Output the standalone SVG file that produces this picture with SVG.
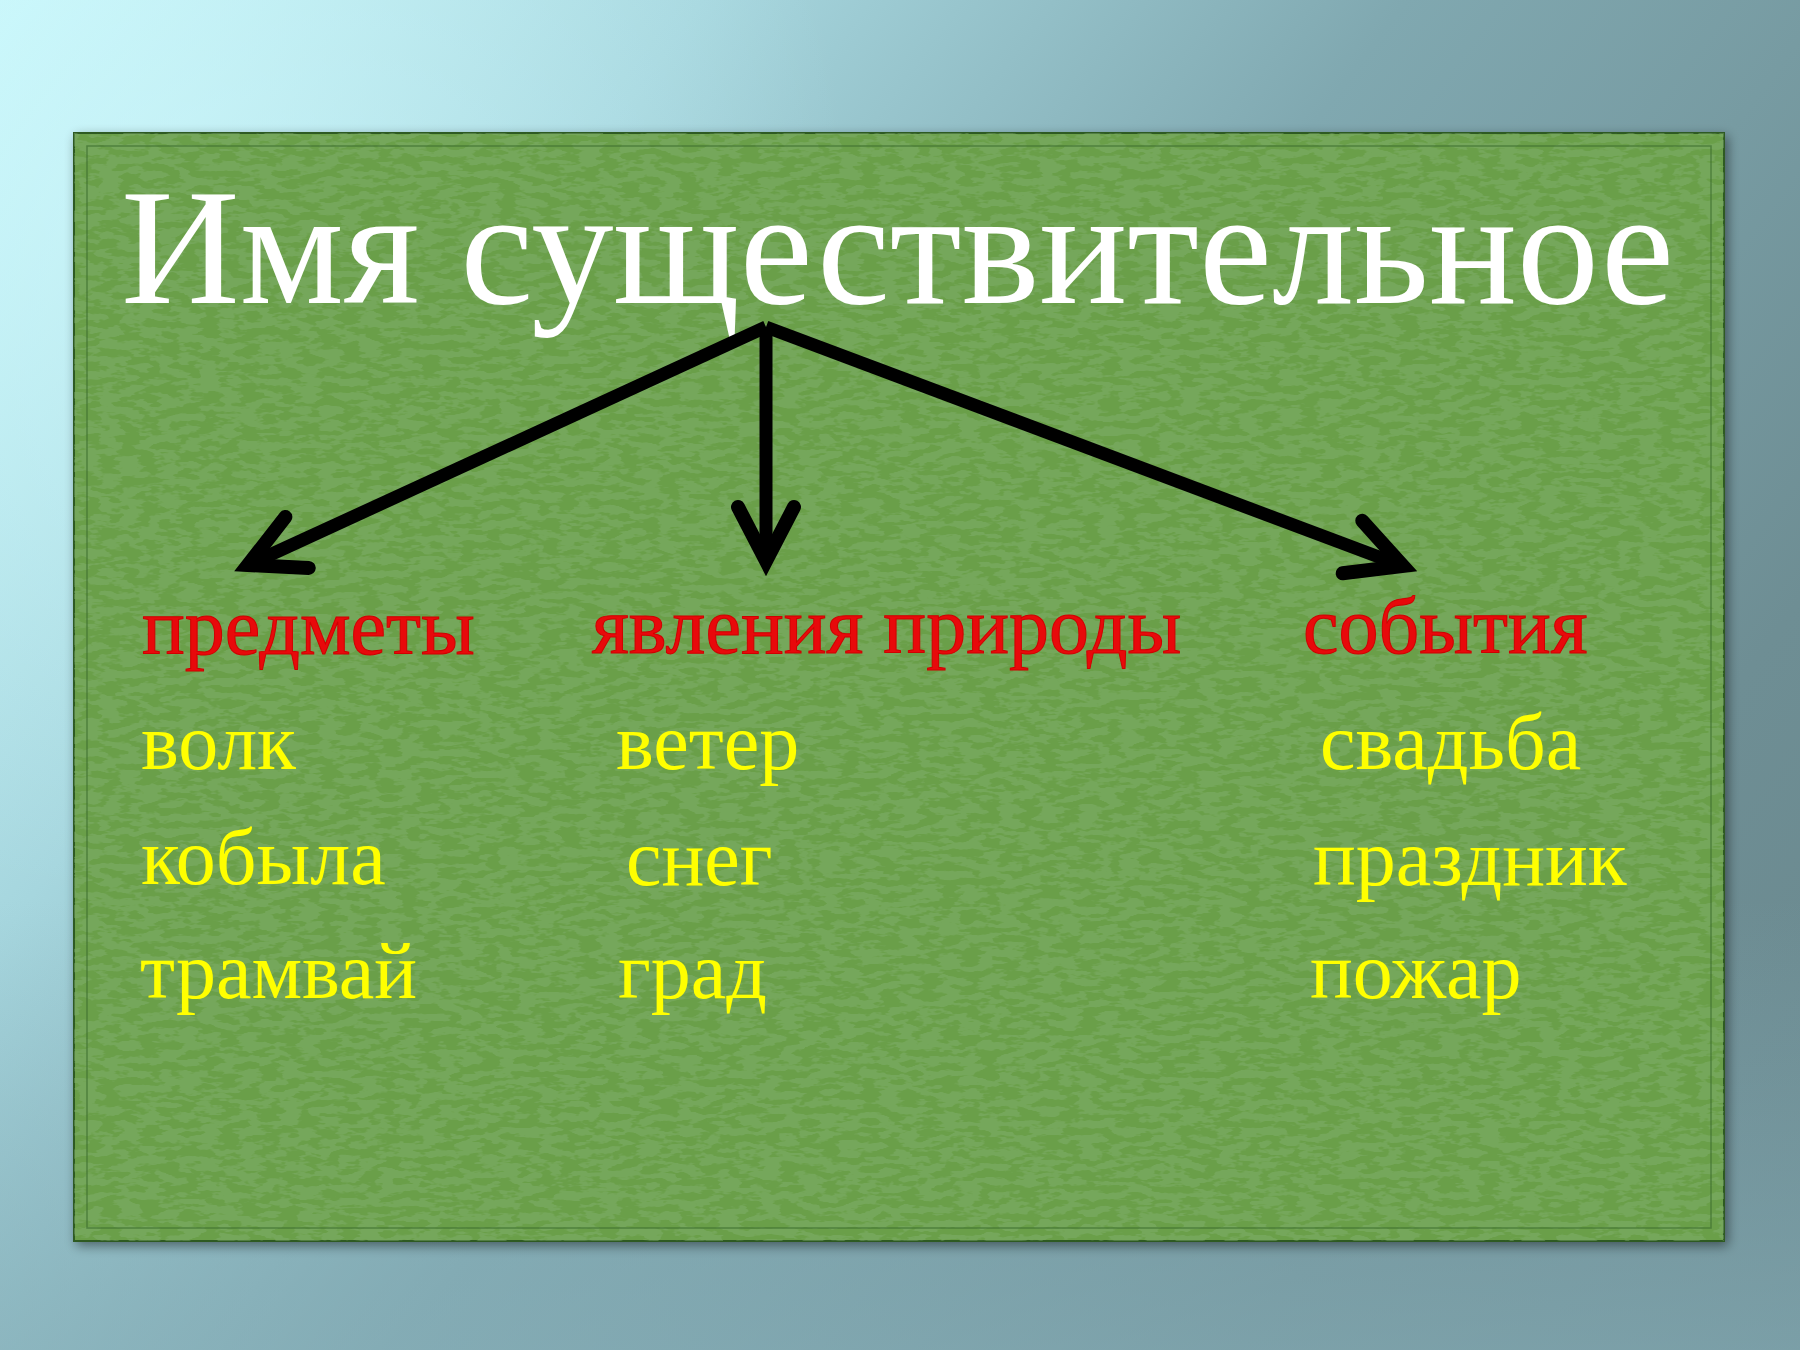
<svg xmlns="http://www.w3.org/2000/svg" width="1800" height="1350" viewBox="0 0 1800 1350">
  <defs>
    <linearGradient id="bg" x1="0" y1="0" x2="1800" y2="1350" gradientUnits="userSpaceOnUse">
      <stop offset="0" stop-color="#c6f5f9"/>
      <stop offset="0.25" stop-color="#a6d6de"/>
      <stop offset="0.5" stop-color="#80a8b0"/>
      <stop offset="0.8" stop-color="#6e8e94"/>
      <stop offset="1" stop-color="#6a888e"/>
    </linearGradient>
    <radialGradient id="glow" cx="150" cy="200" r="700" gradientUnits="userSpaceOnUse">
      <stop offset="0" stop-color="#d2fbff" stop-opacity="0.55"/>
      <stop offset="1" stop-color="#d2fbff" stop-opacity="0"/>
    </radialGradient>
    <linearGradient id="bottomTint" x1="0" y1="0" x2="0" y2="1">
      <stop offset="0" stop-color="#86aeb8" stop-opacity="0"/>
      <stop offset="1" stop-color="#86aeb8" stop-opacity="0.6"/>
    </linearGradient>
    <filter id="shadow" x="-5%" y="-5%" width="110%" height="110%">
      <feGaussianBlur in="SourceAlpha" stdDeviation="6"/>
      <feOffset dx="3" dy="4"/>
      <feComponentTransfer><feFuncA type="linear" slope="0.45"/></feComponentTransfer>
      <feMerge><feMergeNode/><feMergeNode in="SourceGraphic"/></feMerge>
    </filter>
    <filter id="texture" x="0" y="0" width="100%" height="100%">
      <feTurbulence type="fractalNoise" baseFrequency="0.05 0.14" numOctaves="3" seed="7" result="n"/>
      <feColorMatrix in="n" type="matrix" values="0 0 0 0 0.24  0 0 0 0 0.45  0 0 0 0 0.18  0 0 0 -12 6.6" result="c"/>
      <feComposite in="c" in2="SourceGraphic" operator="in"/>
    </filter>
    <marker id="chev" markerUnits="userSpaceOnUse" markerWidth="140" markerHeight="140" viewBox="-70 -70 140 140" refX="0" refY="0" orient="auto" overflow="visible">
      <path d="M -54 -28 L 0 0 L -54 28" fill="none" stroke="#000" stroke-width="14" stroke-linecap="round" stroke-linejoin="miter" stroke-miterlimit="10"/>
    </marker>
    <style>
      .title { font-family: "Liberation Serif", "Times New Roman", serif; font-size: 166px; fill: #ffffff; }
      .cat { font-family: "Liberation Serif", "Times New Roman", serif; font-size: 80px; fill: #e8090b; stroke: #d00000; stroke-width: 1; }
      .word { font-family: "Liberation Serif", "Times New Roman", serif; font-size: 80px; fill: #ffff00; }
      .conn { fill: none; stroke: #000; stroke-width: 13; stroke-linecap: butt; marker-end: url(#chev); }
    </style>
  </defs>

  <g id="background">
    <rect x="0" y="0" width="1800" height="1350" fill="url(#bg)"/>
    <rect x="0" y="0" width="1800" height="1350" fill="url(#glow)"/>
    <rect x="0" y="900" width="1800" height="450" fill="url(#bottomTint)"/>
  </g>

  <g id="panel">
    <rect x="74" y="133" width="1650" height="1108" fill="#6a9f4a" stroke="#2e5a22" stroke-width="2" filter="url(#shadow)"/>
    <rect x="74" y="133" width="1650" height="1108" fill="#4f8a34" filter="url(#texture)" opacity="0.4"/>
    <rect x="87" y="146" width="1624" height="1082" fill="none" stroke="#3f7030" stroke-width="1.5" opacity="0.7"/>
  </g>

  <g id="title">
    <text class="title" x="121" y="303" textLength="1553" lengthAdjust="spacingAndGlyphs">Имя существительное</text>
  </g>

  <g id="connectors">
    <line class="conn" x1="766" y1="327" x2="248" y2="565"/>
    <line class="conn" x1="766" y1="327" x2="766" y2="561"/>
    <line class="conn" x1="766" y1="327" x2="1403" y2="566"/>
  </g>

  <g id="node-predmety">
    <text class="cat" x="142" y="654">предметы</text>
    <text class="word" x="141" y="769">волк</text>
    <text class="word" x="141" y="884">кобыла</text>
    <text class="word" x="140" y="998">трамвай</text>
  </g>

  <g id="node-yavleniya">
    <text class="cat" x="592" y="653">явления природы</text>
    <text class="word" x="616" y="769">ветер</text>
    <text class="word" x="626" y="885">снег</text>
    <text class="word" x="618" y="998">град</text>
  </g>

  <g id="node-sobytiya">
    <text class="cat" x="1303" y="653">события</text>
    <text class="word" x="1320" y="769">свадьба</text>
    <text class="word" x="1313" y="885">праздник</text>
    <text class="word" x="1310" y="998">пожар</text>
  </g>
</svg>
